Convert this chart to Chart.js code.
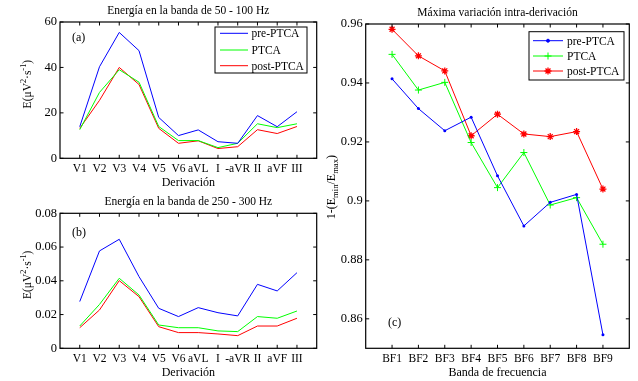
<!DOCTYPE html>
<html>
<head>
<meta charset="utf-8">
<script src="https://cdn.jsdelivr.net/npm/chart.js@4.4.1/dist/chart.umd.min.js"></script>
<style>
  html, body { margin: 0; padding: 0; background: #fff; }
  canvas { position: absolute; left: 0; top: 0; }
</style>
</head>
<body>
<canvas id="chartA" width="638" height="381"></canvas>
<canvas id="chartB" width="638" height="381"></canvas>
<canvas id="chartC" width="638" height="381"></canvas>
<script>
// categories
const leads = ['V1', 'V2', 'V3', 'V4', 'V5', 'V6', 'aVL', 'I', '-aVR', 'II', 'aVF', 'III'];
const bands = ['BF1', 'BF2', 'BF3', 'BF4', 'BF5', 'BF6', 'BF7', 'BF8', 'BF9'];
const seriesNames = ['pre-PTCA', 'PTCA', 'post-PTCA'];
const seriesColors = ['#0000ff', '#00ff00', '#ff0000'];

// (a) energy 50 - 100 Hz
const lowPre  = [13.9, 40.3, 55.4, 47.4, 18.0, 10.0, 12.5, 7.3, 6.6, 18.8, 13.9, 20.5];
const lowPtca = [12.6, 29.0, 39.0, 33.5, 14.0, 7.8, 7.8, 4.7, 6.6, 15.2, 13.5, 15.2];
const lowPost = [13.2, 25.5, 40.0, 32.5, 13.2, 6.6, 7.7, 4.3, 5.1, 12.6, 10.9, 14.0];

// (b) energy 250 - 300 Hz
const highPre  = [0.0277, 0.0577, 0.0646, 0.0425, 0.0237, 0.0188, 0.0241, 0.0211, 0.0192, 0.0379, 0.0340, 0.0448];
const highPtca = [0.0132, 0.0260, 0.0415, 0.0316, 0.0138, 0.0122, 0.0122, 0.0103, 0.0099, 0.0188, 0.0178, 0.0221];
const highPost = [0.0122, 0.0227, 0.0401, 0.0306, 0.0128, 0.0093, 0.0093, 0.0085, 0.0075, 0.0132, 0.0132, 0.0178];

// (c) max intra-lead variation
const varPre  = [0.9414, 0.9313, 0.9238, 0.9284, 0.9085, 0.8915, 0.8995, 0.9022, 0.8546];
const varPtca = [0.9497, 0.9376, 0.9402, 0.9198, 0.9045, 0.9164, 0.8986, 0.9011, 0.8853];
const varPost = [0.9582, 0.9492, 0.9441, 0.9221, 0.9294, 0.9227, 0.9218, 0.9235, 0.9040];

// tick labels
const lowTicks = [0, 20, 40, 60];
const highTicks = [0, 0.02, 0.04, 0.06, 0.08];
const varTicks = [0.86, 0.88, 0.9, 0.92, 0.94, 0.96];

const serif = '"Liberation Serif", "Times New Roman", serif';
const Y_W = 40, X_H = 24; // room kept for the tick labels

function drawRich(ctx, parts, bx, cy, size) {
  const small = size * 0.72;
  const fontOf = k => (k ? small : size) + 'px ' + serif;
  let w = 0;
  parts.forEach(([t, k]) => { ctx.font = fontOf(k); w += ctx.measureText(t).width; });
  ctx.save();
  ctx.translate(bx, cy);
  ctx.rotate(-Math.PI / 2);
  ctx.textAlign = 'left';
  ctx.textBaseline = 'alphabetic';
  let x = -w / 2;
  parts.forEach(([t, k]) => {
    ctx.font = fontOf(k);
    ctx.fillText(t, x, k > 0 ? -size * 0.4 : k < 0 ? size * 0.22 : 0);
    x += ctx.measureText(t).width;
  });
  ctx.restore();
}

// matlab-like box, inward ticks, titles, legend
const matlabAxes = {
  id: 'matlabAxes',
  afterDraw(chart, args, o) {
    const { ctx, chartArea: a, scales: { x, y } } = chart;
    ctx.save();
    ctx.strokeStyle = '#000';
    ctx.lineWidth = 1.2;
    ctx.strokeRect(a.left, a.top, a.right - a.left, a.bottom - a.top);
    ctx.lineWidth = 1;
    ctx.beginPath();
    x.ticks.forEach(t => {
      const px = x.getPixelForValue(t.value);
      ctx.moveTo(px, a.bottom); ctx.lineTo(px, a.bottom - 3.5);
      ctx.moveTo(px, a.top); ctx.lineTo(px, a.top + 3.5);
    });
    y.ticks.forEach(t => {
      const py = y.getPixelForValue(t.value);
      ctx.moveTo(a.left, py); ctx.lineTo(a.left + 3.5, py);
      ctx.moveTo(a.right, py); ctx.lineTo(a.right - 3.5, py);
    });
    ctx.stroke();

    ctx.fillStyle = '#000';
    ctx.textAlign = 'center';
    ctx.textBaseline = 'alphabetic';
    ctx.font = '11.5px ' + serif;
    const cx = (a.left + a.right) / 2;
    ctx.fillText(o.title, cx, a.top - 8);
    ctx.font = '12px ' + serif;
    ctx.fillText(o.xTitle, cx, a.bottom + 27.5);
    ctx.textAlign = 'left';
    ctx.fillText(o.panel[0], o.panel[1], o.panel[2]);
    drawRich(ctx, o.yTitle, o.yTitleX, (a.top + a.bottom) / 2 - o.yTitleShift, o.yTitleSize);

    // legend
    const L = o.legend;
    if (L) {
      ctx.fillStyle = '#fff';
      ctx.fillRect(L.box[0], L.box[1], L.box[2] - L.box[0], L.box[3] - L.box[1]);
      ctx.strokeStyle = '#000';
      ctx.lineWidth = 1;
      ctx.strokeRect(L.box[0], L.box[1], L.box[2] - L.box[0], L.box[3] - L.box[1]);
      ctx.font = '11.5px ' + serif;
      chart.data.datasets.forEach((ds, i) => {
        const ry = L.rows[i];
        ctx.strokeStyle = ds.borderColor;
        ctx.fillStyle = ds.borderColor;
        ctx.lineWidth = 1;
        ctx.beginPath();
        ctx.moveTo(L.line[0], ry); ctx.lineTo(L.line[1], ry);
        ctx.stroke();
        if (ds.pointRadius > 0 && Chart.helpers && Chart.helpers.drawPoint) {
          ctx.lineWidth = ds.pointBorderWidth || 1;
          Chart.helpers.drawPoint(ctx, { pointStyle: ds.pointStyle, radius: ds.pointRadius, rotation: 0, borderWidth: ds.pointBorderWidth || 1 }, (L.line[0] + L.line[1]) / 2, ry);
        }
        ctx.fillStyle = '#000';
        ctx.fillText(ds.label, L.text, ry + 4);
      });
    }
    ctx.restore();
  }
};

function series(vals, i, extra) {
  return Object.assign({
    label: seriesNames[i],
    data: vals.map((v, k) => ({ x: k + 1, y: v })),
    borderColor: seriesColors[i],
    backgroundColor: seriesColors[i],
    borderWidth: 1,
    pointRadius: 0,
    tension: 0
  }, extra || {});
}

function makeChart(id, labels, datasets, yMin, yMax, yTicks, area, deco) {
  return new Chart(document.getElementById(id), {
    type: 'line',
    data: { datasets: datasets },
    options: {
      responsive: false,
      animation: false,
      events: [],
      layout: { padding: { left: area[0] - Y_W, top: area[1], right: 638 - area[2], bottom: 381 - area[3] - X_H } },
      scales: {
        x: {
          type: 'linear', min: 0, max: labels.length + 1,
          afterBuildTicks: s => { s.ticks = labels.map((l, i) => ({ value: i + 1 })); },
          afterFit: s => { s.height = X_H; },
          grid: { display: false, drawTicks: false },
          border: { display: false },
          ticks: { color: '#000', font: { family: serif, size: 11.5 }, padding: 3.5, autoSkip: false,
                   minRotation: 0, maxRotation: 0, callback: v => labels[v - 1] || '' }
        },
        y: {
          type: 'linear', min: yMin, max: yMax,
          afterBuildTicks: s => { s.ticks = yTicks.map(v => ({ value: v })); },
          afterFit: s => { s.width = Y_W; },
          grid: { display: false, drawTicks: false },
          border: { display: false },
          ticks: { color: '#000', font: { family: serif, size: 12.5 }, padding: 3, callback: v => String(v) }
        }
      },
      plugins: { legend: { display: false }, tooltip: { enabled: false }, matlabAxes: deco }
    },
    plugins: [matlabAxes]
  });
}

const unitTitle = [['E(μV', 0], ['2', 1], ['·s', 0], ['-1', 1], [')', 0]];

makeChart('chartA', leads,
  [series(lowPre, 0), series(lowPtca, 1), series(lowPost, 2)],
  0, 60, lowTicks, [60, 22, 316.7, 158.3], {
    title: 'Energía en la banda de 50 - 100 Hz', xTitle: 'Derivación',
    yTitle: unitTitle, yTitleX: 30.5, yTitleShift: 6, yTitleSize: 11.5,
    panel: ['(a)', 72, 41],
    legend: { box: [215, 27, 307, 73], rows: [33.3, 50, 65.7], line: [220, 248], text: 251.5 }
  });

makeChart('chartB', leads,
  [series(highPre, 0), series(highPtca, 1), series(highPost, 2)],
  0, 0.08, highTicks, [60, 213.3, 316.7, 348.3], {
    title: 'Energía en la banda de 250 - 300 Hz', xTitle: 'Derivación',
    yTitle: unitTitle, yTitleX: 31, yTitleShift: 6, yTitleSize: 11.5,
    panel: ['(b)', 72, 236],
    legend: null
  });

makeChart('chartC', bands,
  [series(varPre, 0, { pointStyle: 'circle', pointRadius: 1.5, pointBorderWidth: 0 }),
   series(varPtca, 1, { pointStyle: 'cross', pointRadius: 3.5, pointBorderWidth: 1 }),
   series(varPost, 2, { pointStyle: 'star', pointRadius: 3.5, pointBorderWidth: 1.3 })],
  0.85, 0.96, varTicks, [365.7, 24, 629.3, 348.3], {
    title: 'Máxima variación intra-derivación', xTitle: 'Banda de frecuencia',
    yTitle: [['1-(E', 0], ['min', -1], ['/E', 0], ['max', -1], [')', 0]],
    yTitleX: 335, yTitleShift: -1, yTitleSize: 12,
    panel: ['(c)', 388, 326],
    legend: { box: [529, 31.7, 624, 80], rows: [40.7, 56, 71], line: [533, 563], text: 567 }
  });
</script>
</body>
</html>
